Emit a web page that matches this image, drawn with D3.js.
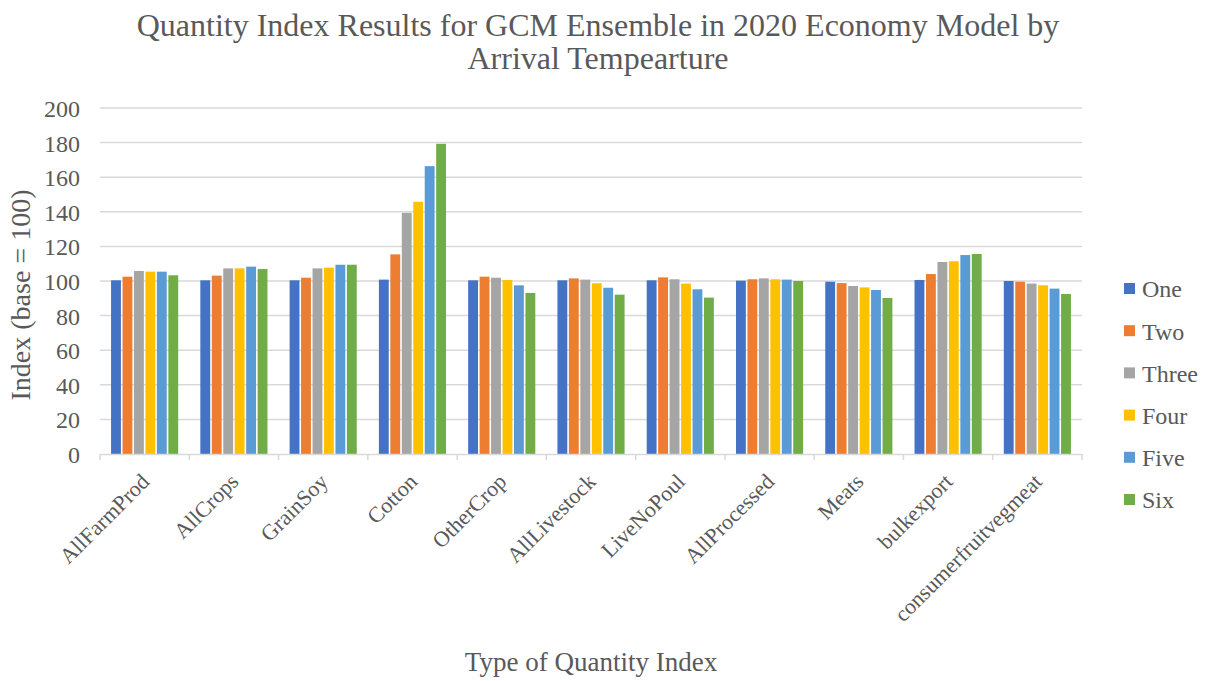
<!DOCTYPE html>
<html><head><meta charset="utf-8">
<script src="https://cdn.jsdelivr.net/npm/d3@7"></script>
<style>body{margin:0;background:#fff}svg{display:block}text{font-family:"Liberation Serif","Times New Roman",serif;fill:#595959}</style>
</head><body>
<svg id="c" width="1209" height="681"></svg>
<script>
const categories = ["AllFarmProd","AllCrops","GrainSoy","Cotton","OtherCrop","AllLivestock","LiveNoPoul","AllProcessed","Meats","bulkexport","consumerfruitvegmeat"];
const seriesNames = ["One","Two","Three","Four","Five","Six"];
const seriesColors = ["#4472C4","#ED7D31","#A5A5A5","#FFC000","#5B9BD5","#70AD47"];
const One   = [100.4,100.4,100.4,100.8,100.4,100.4,100.4,100.2,99.6,100.6,100.0];
const Two   = [102.5,103.1,101.9,115.4,102.5,101.5,102.1,101.0,98.8,104.0,99.6];
const Three = [105.8,107.3,107.3,139.4,101.9,100.8,101.0,101.5,97.1,111.0,98.5];
const Four  = [105.4,107.3,107.7,145.8,100.6,98.7,98.5,101.0,96.3,111.4,97.5];
const Five  = [105.4,108.3,109.4,166.4,97.5,96.1,95.2,100.8,94.8,115.0,95.6];
const Six   = [103.3,106.9,109.4,179.3,93.1,92.1,90.4,100.0,90.2,115.6,92.5];
const yTicks = [0,20,40,60,80,100,120,140,160,180,200];
const titleLines = ["Quantity Index Results for GCM Ensemble in 2020 Economy Model by","Arrival Tempearture"];
const yTitle = "Index (base = 100)";
const xTitle = "Type of Quantity Index";

const seriesValues = [One,Two,Three,Four,Five,Six];
const svg = d3.select("#c");
const L = 100, R = 1082, T = 108, B = 454;
const x0 = d3.scaleBand().domain(categories).range([L,R]).padding(0);
const bw = x0.bandwidth();
const x1 = d3.scaleBand().domain(seriesNames).range([bw*0.115, bw*0.885]).paddingInner(0.14).paddingOuter(0.07);
const y = d3.scaleLinear().domain([0,200]).range([B,T]);

// gridlines
svg.append("g").selectAll("line").data(yTicks.filter(d=>d>0)).join("line")
  .attr("x1",L).attr("x2",R).attr("y1",d=>y(d)).attr("y2",d=>y(d))
  .attr("stroke","#d9d9d9").attr("stroke-width",1.5);

// bars
const g = svg.append("g");
categories.forEach((c,i)=>{
  const gg = g.append("g").attr("transform",`translate(${x0(c)},0)`);
  seriesNames.forEach((s,j)=>{
    const v = seriesValues[j][i];
    gg.append("rect").attr("x",x1(s)).attr("width",x1.bandwidth())
      .attr("y",y(v)).attr("height",y(0)-y(v)).attr("fill",seriesColors[j]);
  });
});

// x axis
const xa = svg.append("g").attr("transform",`translate(0,${B})`)
  .call(d3.axisBottom(x0).tickSize(0).tickFormat(""));
xa.select(".domain").attr("stroke","#d9d9d9").attr("stroke-width",1.5);
const bounds = categories.map(c=>x0(c)).concat([R]);
svg.append("g").selectAll("line").data(bounds).join("line")
  .attr("x1",d=>d).attr("x2",d=>d).attr("y1",B).attr("y2",B+6)
  .attr("stroke","#d9d9d9").attr("stroke-width",1.5);
svg.append("g").selectAll("text").data(categories).join("text")
  .attr("transform",d=>`translate(${x0(d)+bw/2+6},${B+29}) rotate(-45)`)
  .attr("text-anchor","end").attr("font-size",22).text(d=>d);

// y axis
const ya = svg.append("g").attr("transform",`translate(${L},0)`)
  .call(d3.axisLeft(y).tickValues(yTicks).tickSize(0).tickPadding(20));
ya.select(".domain").remove();
ya.selectAll("text").attr("font-size",24).attr("font-family","Liberation Serif").attr("fill","#595959").attr("dy","0.35em");

// titles
svg.append("text").attr("x",598).attr("y",36).attr("text-anchor","middle").attr("font-size",32).text(titleLines[0]);
svg.append("text").attr("x",598).attr("y",69).attr("text-anchor","middle").attr("font-size",32).text(titleLines[1]);
svg.append("text").attr("transform",`translate(30,${(T+B)/2+14}) rotate(-90)`).attr("text-anchor","middle").attr("font-size",28).text(yTitle);
svg.append("text").attr("x",591).attr("y",671).attr("text-anchor","middle").attr("font-size",27).text(xTitle);

// legend
const lg = svg.append("g").selectAll("g").data(seriesNames).join("g")
  .attr("transform",(d,i)=>`translate(1124,${289+i*42.2})`);
lg.append("rect").attr("x",0).attr("y",-6).attr("width",11).attr("height",11).attr("fill",(d,i)=>seriesColors[i]);
lg.append("text").attr("x",18).attr("y",0).attr("dy","0.35em").attr("font-size",24).text(d=>d);
</script>
</body></html>
